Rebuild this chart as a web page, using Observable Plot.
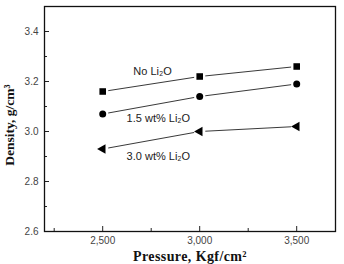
<!DOCTYPE html>
<html><head><meta charset="utf-8">
<script src="https://cdn.jsdelivr.net/npm/d3@7"></script>
<script src="https://cdn.jsdelivr.net/npm/@observablehq/plot@0.6"></script>
<style>
html,body{margin:0;padding:0;background:#fff;}
</style>
</head><body><div id="chart"></div>
<script>
const pressure = [2500, 3000, 3500];
const noLi2O = [3.16, 3.22, 3.26];
const li15 = [3.07, 3.14, 3.19];
const li30 = [2.93, 3.00, 3.02];
const seriesNames = ["No Li\u2082O", "1.5 wt% Li\u2082O", "3.0 wt% Li\u2082O"];
const labelX = [2757, 2787, 2787];
const labelY = [3.241, 3.053, 2.90];
const xTicks = [2500, 3000, 3500];
const xMinor = [2250, 2750, 3250];
const yTicks = [2.6, 2.8, 3.0, 3.2, 3.4];
const yMinor = [2.7, 2.9, 3.1, 3.3];

const allSeries = [noLi2O, li15, li30];
const points = [];
const segs = [];
const labels = [];
allSeries.forEach((vals, s) => {
  vals.forEach((v, i) => {
    points.push({x: pressure[i], y: v, s});
    if (i > 0) segs.push({x1: pressure[i-1], y1: vals[i-1], x2: pressure[i], y2: v});
  });
  labels.push({x: labelX[s], y: labelY[s], t: seriesNames[s]});
});

const fmt = d3.format(",");
const chart = Plot.plot({
  width: 344, height: 264,
  marginLeft: 44, marginRight: 9, marginTop: 6, marginBottom: 33,
  style: {fontFamily: "'Liberation Sans', Arial, sans-serif", fontSize: "10px", color: "#333", background: "#fff"},
  x: {domain: [2200, 3700]},
  y: {domain: [2.6, 3.5]},
  marks: [
    Plot.axisX({ticks: xTicks, tickSize: 0, tickPadding: 5, tickFormat: fmt, label: null, fill: "#444"}),
    Plot.axisX({ticks: xTicks, tickSize: -5, text: null, label: null, stroke: "#222"}),
    Plot.axisX({ticks: xMinor, tickSize: -3, text: null, label: null, stroke: "#222"}),
    Plot.axisY({ticks: yTicks, tickSize: 0, tickPadding: 6, tickFormat: d3.format(".1f"), label: null, fill: "#444"}),
    Plot.axisY({ticks: yTicks, tickSize: -5, text: null, label: null, stroke: "#222"}),
    Plot.axisY({ticks: yMinor, tickSize: -3, text: null, label: null, stroke: "#222"}),
    Plot.frame({stroke: "#111", strokeWidth: 1.3}),
    Plot.arrow(segs, {x1: "x1", y1: "y1", x2: "x2", y2: "y2", headLength: 0, insetStart: 6, insetEnd: 6, stroke: "#222", strokeWidth: 0.9}),
    Plot.dot(points.filter(d => d.s === 0), {x: "x", y: "y", symbol: "square", r: 3.7, fill: "#000", stroke: "none"}),
    Plot.dot(points.filter(d => d.s === 1), {x: "x", y: "y", symbol: "circle", r: 3.5, fill: "#000", stroke: "none"}),
    Plot.dot(points.filter(d => d.s === 2), {x: "x", y: "y", symbol: "triangle", r: 3.6, rotate: -90, fill: "#000", stroke: "none"}),
    Plot.text(labels, {x: "x", y: "y", text: "t", fontSize: 11, fill: "#222", fontFamily: "'Liberation Sans', Arial, sans-serif"})
  ]
});
const svg = d3.select(chart);
svg.append("text")
  .attr("transform", "translate(14,125) rotate(-90)")
  .attr("text-anchor", "middle")
  .attr("font-family", "'Liberation Serif', 'Times New Roman', serif")
  .attr("font-weight", "bold").attr("font-size", 13.5).attr("fill", "#111")
  .text("Density, g/cm\u00B3");
svg.append("text")
  .attr("x", 190).attr("y", 261)
  .attr("text-anchor", "middle")
  .attr("font-family", "'Liberation Serif', 'Times New Roman', serif")
  .attr("font-weight", "bold").attr("font-size", 14).attr("letter-spacing", 0.4).attr("fill", "#111")
  .text("Pressure, Kgf/cm\u00B2");
document.getElementById("chart").appendChild(chart);
</script>
</body></html>
